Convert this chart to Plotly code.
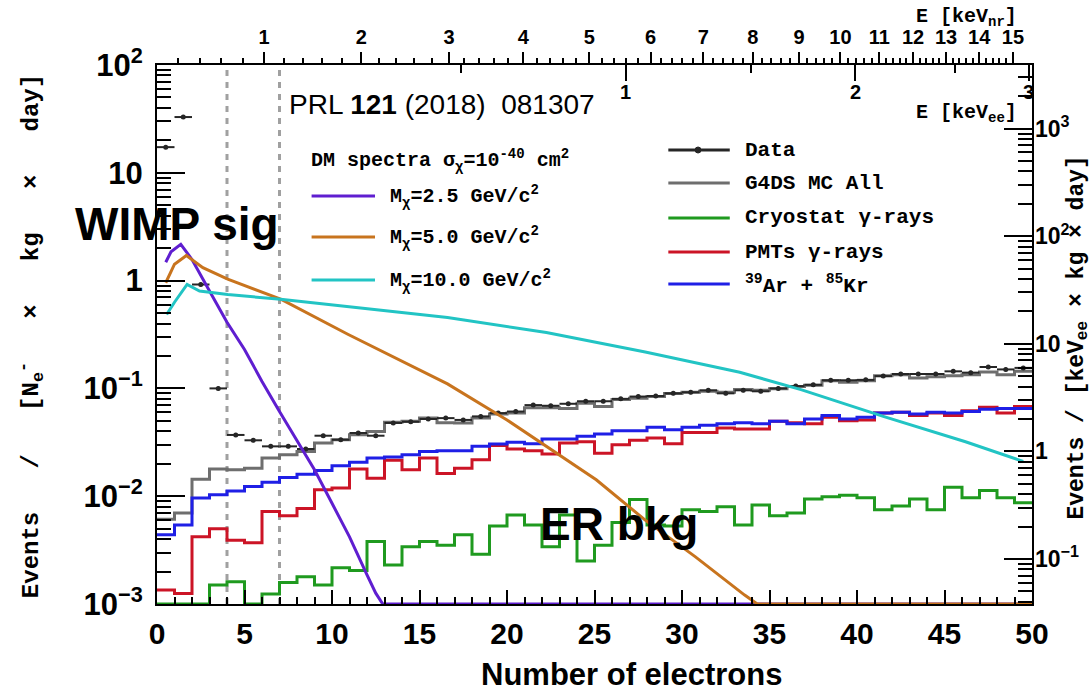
import numpy as np
import plotly.graph_objects as go

# ---------------------------------------------------------------
# Spectra in number of extracted electrons (1-electron bins, 0..50)
# ---------------------------------------------------------------
edges = np.arange(0, 51)
centers = edges[:-1] + 0.5

data_rate = [17.3, 32.9, 0.92, 0.10, 0.037, 0.033, 0.029, 0.029, 0.0274, 0.0364,
             0.0334, 0.0386, 0.0364, 0.0478, 0.049, 0.052, 0.053, 0.051, 0.055, 0.059,
             0.061, 0.070, 0.069, 0.072, 0.076, 0.076, 0.080, 0.084, 0.085, 0.090,
             0.092, 0.096, 0.090, 0.096, 0.094, 0.100, 0.105, 0.108, 0.119, 0.119,
             0.120, 0.130, 0.136, 0.136, 0.136, 0.144, 0.140, 0.158, 0.150, 0.155]

mc_all = [6.1e-3, 7.0e-3, 1.44e-2, 1.79e-2, 1.76e-2, 1.82e-2, 2.26e-2, 2.43e-2, 2.6e-2, 3.11e-2,
          3.34e-2, 3.72e-2, 3.99e-2, 4.84e-2, 4.95e-2, 5.3e-2, 4.8e-2, 4.78e-2, 5.3e-2, 5.8e-2,
          5.9e-2, 6.6e-2, 6.6e-2, 6.5e-2, 7.3e-2, 6.8e-2, 7.9e-2, 8.1e-2, 8.4e-2, 8.95e-2,
          9.2e-2, 9.4e-2, 9.2e-2, 9.75e-2, 9.6e-2, 9.9e-2, 0.104, 0.107, 0.118, 0.114,
          0.118, 0.131, 0.134, 0.125, 0.128, 0.131, 0.134, 0.142, 0.134, 0.144]

cryostat = [1e-3, 1e-3, 1e-3, 1.5e-3, 1.61e-3, 1e-3, 1.24e-3, 1.58e-3, 1.79e-3, 1.5e-3,
            2.17e-3, 2.04e-3, 3.8e-3, 2.3e-3, 3.4e-3, 3.8e-3, 3.5e-3, 4.4e-3, 2.9e-3, 5.3e-3,
            6.7e-3, 5.4e-3, 3.4e-3, 6.7e-3, 2.5e-3, 3.5e-3, 5.7e-3, 9.3e-3, 5.4e-3, 5.3e-3,
            7.5e-3, 7.2e-3, 8.0e-3, 5.4e-3, 8.3e-3, 6.6e-3, 7.0e-3, 9.4e-3, 9.9e-3, 1.02e-2,
            9.7e-3, 7.5e-3, 8.1e-3, 9.4e-3, 7.5e-3, 1.21e-2, 9.7e-3, 1.13e-2, 9.7e-3, 8.7e-3]

pmts = [1.35e-3, 1.25e-3, 4.2e-3, 5.0e-3, 3.9e-3, 3.7e-3, 7.2e-3, 6.6e-3, 7.7e-3, 1.15e-2,
        1.19e-2, 1.79e-2, 1.47e-2, 2.15e-2, 1.76e-2, 2.26e-2, 1.62e-2, 1.82e-2, 2.18e-2, 2.96e-2,
        2.74e-2, 2.64e-2, 2.46e-2, 3.11e-2, 3.2e-2, 2.5e-2, 3.0e-2, 3.3e-2, 3.47e-2, 3.07e-2,
        3.9e-2, 3.9e-2, 4.3e-2, 4.2e-2, 4.2e-2, 4.95e-2, 4.8e-2, 4.7e-2, 5.4e-2, 5.0e-2,
        5.1e-2, 5.9e-2, 6.0e-2, 5.6e-2, 5.9e-2, 5.6e-2, 6.2e-2, 6.7e-2, 5.9e-2, 6.8e-2]

ar_kr = [4.4e-3, 5.4e-3, 9.6e-3, 1.03e-2, 1.12e-2, 1.23e-2, 1.35e-2, 1.49e-2, 1.6e-2, 1.73e-2,
         1.92e-2, 2.07e-2, 2.26e-2, 2.31e-2, 2.43e-2, 2.6e-2, 2.64e-2, 2.64e-2, 2.9e-2, 3.05e-2,
         3.16e-2, 3.07e-2, 3.39e-2, 3.39e-2, 3.59e-2, 3.78e-2, 4.05e-2, 4.05e-2, 4.35e-2, 4.14e-2,
         4.35e-2, 4.54e-2, 4.71e-2, 4.8e-2, 4.7e-2, 4.95e-2, 4.7e-2, 5.2e-2, 5.6e-2, 5.2e-2,
         5.4e-2, 5.9e-2, 6.0e-2, 5.8e-2, 6.0e-2, 5.9e-2, 6.1e-2, 6.4e-2, 6.5e-2, 6.5e-2]

# DM recoil spectra, sigma_chi = 1e-40 cm^2 (clipped at the 1e-3 floor)
dm25_ne = [0.5, 0.8, 1.36, 2, 3, 4, 5, 6, 7, 8, 9, 10, 11, 12, 12.5, 12.9, 50]
dm25_rate = [1.48, 1.85, 2.17, 1.57, 0.80, 0.41, 0.23, 0.116, 0.061, 0.033, 0.0176,
             0.0086, 0.0042, 0.00186, 0.00126, 0.001, 0.001]

dm50_ne = [0.5, 1.0, 1.68, 2.62, 4.04, 7.1, 10.93, 16.6, 20, 22.25, 25.1, 27.9, 30.75,
           33.58, 34.3, 50]
dm50_rate = [0.955, 1.42, 1.71, 1.32, 1.03, 0.67, 0.316, 0.11, 0.051, 0.029, 0.0142,
             0.006, 0.00275, 0.00121, 0.001, 0.001]

dm100_ne = [0.55, 1.0, 1.72, 2.43, 4.04, 7.06, 16.6, 22.25, 27.9, 33.3, 36.8, 41.5,
            46.2, 49.5]
dm100_rate = [0.485, 0.63, 0.92, 0.80, 0.744, 0.67, 0.455, 0.33, 0.218, 0.141, 0.0975,
              0.055, 0.032, 0.021]

# analysis thresholds (electrons)
thresholds = [4, 7]

# energy scales on the top axis
kevnr_labels = list(range(1, 16))
kevnr_ne = [6.12, 11.68, 16.69, 20.93, 24.71, 28.2, 31.22, 34.05, 36.69, 39.05,
            41.28, 43.2, 45.09, 46.98, 48.91]
kevee_labels = [1, 2, 3]
kevee_ne = [26.78, 39.9, 49.81]
kevee_half_ne = [17.35, 33.96, 45.6]

# ---------------------------------------------------------------
C_DATA = "#262626"
C_MC = "#6e6e6e"
C_CRYO = "#1f9a1f"
C_PMT = "#cc1426"
C_AR = "#1f1fe6"
C_25 = "#5f1ed0"
C_50 = "#c8741e"
C_100 = "#22c4c4"

MONO = "Liberation Mono"
SANS = "Liberation Sans"

# plot-area pixel frame
L, R, T, B = 157, 1040, 65, 604
W, H = 1091, 693


def px(x):
    return (x - L) / (R - L)


def py(y):
    return (B - y) / (B - T)


fig = go.Figure()


def step_trace(vals, color, width=3):
    y = list(vals) + [vals[-1]]
    return go.Scatter(x=edges, y=y, mode="lines", line=dict(color=color, width=width, shape="hv"),
                      hoverinfo="skip", showlegend=False)


fig.add_trace(step_trace(mc_all, C_MC))
fig.add_trace(step_trace(cryostat, C_CRYO))
fig.add_trace(step_trace(pmts, C_PMT))
fig.add_trace(step_trace(ar_kr, C_AR))

fig.add_trace(go.Scatter(
    x=centers, y=data_rate, mode="markers",
    marker=dict(color=C_DATA, size=5),
    error_x=dict(type="constant", value=0.5, width=0, thickness=2, color=C_DATA),
    error_y=dict(type="percent", value=4, width=0, thickness=2, color=C_DATA),
    hoverinfo="skip", showlegend=False))

for xs, ys, col in [(dm25_ne, dm25_rate, C_25), (dm50_ne, dm50_rate, C_50),
                    (dm100_ne, dm100_rate, C_100)]:
    fig.add_trace(go.Scatter(x=xs, y=ys, mode="lines", line=dict(color=col, width=3),
                             hoverinfo="skip", showlegend=False))

# placeholder traces so the extra axes are instantiated
fig.add_trace(go.Scatter(x=[None], y=[None], xaxis="x2", yaxis="y", showlegend=False, hoverinfo="skip"))
fig.add_trace(go.Scatter(x=[None], y=[None], xaxis="x3", yaxis="y2", showlegend=False, hoverinfo="skip"))

# threshold lines
for t in thresholds:
    fig.add_shape(type="line", xref="x", yref="paper", x0=t, x1=t, y0=0, y1=1,
                  line=dict(color="#a0a0a0", width=3, dash="6px,6px"), layer="below")

# ---------------- axes ----------------
left_minor = [m * 10.0 ** e for e in range(-3, 2) for m in range(2, 10)]
right_minor = [m * 10.0 ** e for e in range(-2, 4) for m in range(2, 10)]
nr_steps = np.arange(0.2, 15.0, 0.2)
nr_minor = np.interp(nr_steps, [0] + kevnr_labels, [0] + kevnr_ne)
nr_minor = [v for v, e in zip(nr_minor, nr_steps) if abs(e - round(e)) > 0.05]

fig.update_layout(
    width=W, height=H,
    margin=dict(l=L, r=W - R, t=T, b=H - B),
    plot_bgcolor="white", paper_bgcolor="white",
    showlegend=False,
    xaxis=dict(range=[0, 50], tickmode="linear", tick0=0, dtick=5,
               ticks="inside", ticklen=14, tickwidth=2, tickcolor="black",
               minor=dict(dtick=1, ticks="inside", ticklen=7, tickwidth=2, tickcolor="black"),
               showline=True, linewidth=2, linecolor="black", mirror=True,
               showgrid=False, zeroline=False, ticklabelstandoff=2,
               tickfont=dict(family=SANS, size=30, color="black", weight="bold")),
    yaxis=dict(type="log", range=[-3, 2],
               tickmode="array", tickvals=[1e-3, 1e-2, 1e-1, 1, 10, 100],
               ticktext=["10<sup>\u22123</sup>", "10<sup>\u22122</sup>", "10<sup>\u22121</sup>",
                         "1", "10", "10<sup>2</sup>"],
               ticks="inside", ticklen=28, tickwidth=2, tickcolor="black",
               minor=dict(tickmode="array", tickvals=left_minor, ticks="inside", ticklen=14,
                          tickwidth=2, tickcolor="black"),
               showline=True, linewidth=2, linecolor="black", mirror=True,
               showgrid=False, zeroline=False, ticklabelstandoff=6,
               tickfont=dict(family=SANS, size=31, color="black", weight="bold")),
    xaxis2=dict(overlaying="x", side="top", anchor="y", range=[0, 50],
                tickmode="array", tickvals=kevnr_ne, ticktext=[str(v) for v in kevnr_labels],
                ticks="outside", ticklen=12, tickwidth=2, tickcolor="black",
                minor=dict(tickmode="array", tickvals=nr_minor, ticks="outside", ticklen=6,
                           tickwidth=2, tickcolor="black"),
                showline=False, showgrid=False, zeroline=False, ticklabelstandoff=0,
                tickfont=dict(family=SANS, size=20, color="black", weight="bold")),
    xaxis3=dict(overlaying="x", side="top", anchor="y2", range=[0, 50],
                tickmode="array", tickvals=kevee_ne, showticklabels=False,
                ticks="inside", ticklen=16, tickwidth=2, tickcolor="black",
                minor=dict(tickmode="array", tickvals=kevee_half_ne, ticks="inside", ticklen=8,
                           tickwidth=2, tickcolor="black"),
                showline=False, showgrid=False, zeroline=False),
    yaxis2=dict(overlaying="y", side="right", anchor="x3", type="log", range=[-1.418, 3.591],
                tickmode="array", tickvals=[0.1, 1, 10, 100, 1000],
                ticktext=["10<sup>\u22121</sup>", "1", "10", "10<sup>2</sup>", "10<sup>3</sup>"],
                ticks="inside", ticklen=28, tickwidth=2, tickcolor="black",
                minor=dict(tickmode="array", tickvals=right_minor, ticks="inside", ticklen=14,
                           tickwidth=2, tickcolor="black"),
                showline=False, showgrid=False, zeroline=False, ticklabelstandoff=2,
                tickfont=dict(family=SANS, size=23, color="black", weight="bold")),
)

# ---------------- legends ----------------
ann = []


def text(x, y, s, size, family=MONO, bold=True, xanchor="left", yanchor="middle", angle=0):
    ann.append(dict(x=px(x), y=py(y), xref="paper", yref="paper", text=s, showarrow=False,
                    xanchor=xanchor, yanchor=yanchor, textangle=angle,
                    font=dict(family=family, size=size, color="black",
                              weight="bold" if bold else "normal")))


def swatch(x0, x1, y, color):
    fig.add_shape(type="line", xref="paper", yref="paper", x0=px(x0), x1=px(x1),
                  y0=py(y), y1=py(y), line=dict(color=color, width=3))


text(310, 160, "DM spectra \u03c3<sub>\u03c7</sub>=10<sup>-40</sup> cm<sup>2</sup>", 20)
dm_rows = [("M<sub>\u03c7</sub>=2.5 GeV/c<sup>2</sup>", C_25, 196),
           ("M<sub>\u03c7</sub>=5.0 GeV/c<sup>2</sup>", C_50, 237),
           ("M<sub>\u03c7</sub>=10.0 GeV/c<sup>2</sup>", C_100, 280)]
for label, col, y in dm_rows:
    swatch(313, 377, y, col)
    text(390, y, label, 20)

bkg_rows = [("Data", C_DATA, 150), ("G4DS MC All", C_MC, 183),
            ("Cryostat \u03b3-rays", C_CRYO, 218), ("PMTs \u03b3-rays", C_PMT, 252),
            ("<sup>39</sup>Ar + <sup>85</sup>Kr", C_AR, 284)]
for label, col, y in bkg_rows:
    swatch(673, 735, y, col)
    text(748, y, label, 21)
fig.add_shape(type="circle", xref="paper", yref="paper",
              x0=px(700), x1=px(706), y0=py(153), y1=py(147),
              fillcolor=C_DATA, line=dict(color=C_DATA, width=1))

# keVee scale labels, hanging below the top frame
for v, ne in zip(kevee_labels, kevee_ne):
    ann.append(dict(x=ne, y=py(92), xref="x", yref="paper", text=str(v), showarrow=False,
                    xanchor="center", yanchor="middle",
                    font=dict(family=SANS, size=20, color="black", weight="bold")))

# ---------------- labels ----------------
text(288, 104, "PRL <b>121</b> (2018)\u00a0\u00a0081307", 28, family=SANS, bold=False)
text(72, 224, "WIMP sig", 46, family=SANS)
text(541, 524, "ER bkg", 46, family=SANS)
text(636, 674, "Number of electrons", 31, family=SANS, xanchor="center")
text(1027, 18, "E [keV<sub>nr</sub>]", 20, xanchor="right")
text(1027, 113, "E [keV<sub>ee</sub>]", 20, xanchor="right")

sp = "\u00a0\u00a0\u00a0"
text(30, 336, "Events" + sp + "/" + sp + "[N<sub>e</sub><sup>-</sup>" + sp + "\u00d7" + sp + "kg"
     + sp + "\u00d7" + sp + "day]", 24, xanchor="center", angle=-90)
text(1086, 338, "Events / [keV<sub>ee</sub> \u00d7 kg \u00d7 day]", 23, xanchor="center", angle=-90)

fig.update_layout(annotations=ann)

fig.write_html("out.html")
